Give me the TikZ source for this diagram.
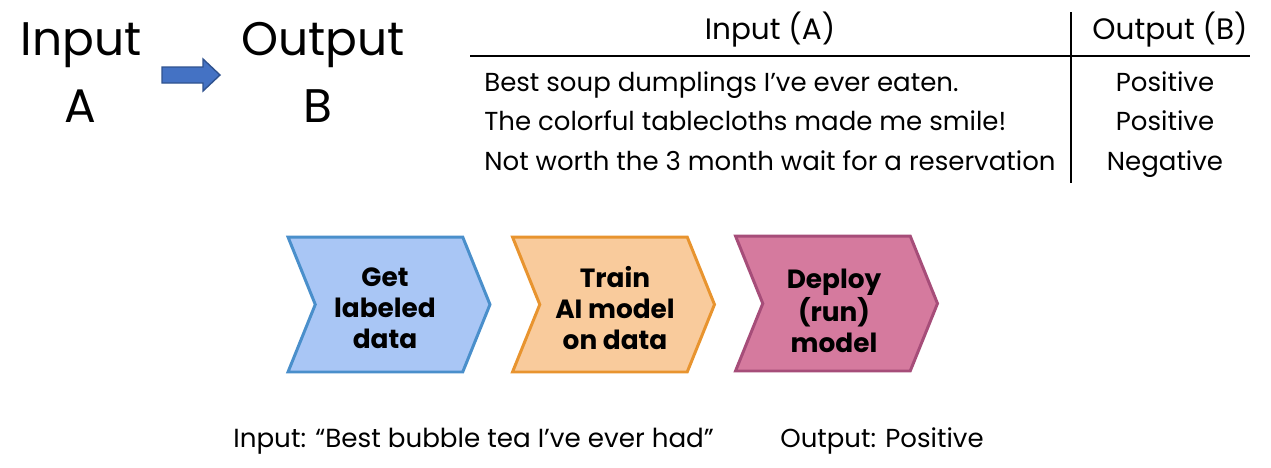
\documentclass[tikz,border=0pt]{standalone}
\usepackage{fontspec}
\setmainfont{Poppins}
\usetikzlibrary{shapes.symbols}
\definecolor{getfill}{HTML}{A9C6F5}
\definecolor{getline}{HTML}{4A8FCB}
\definecolor{trainfill}{HTML}{F9CB9C}
\definecolor{trainline}{HTML}{E8942F}
\definecolor{deployfill}{HTML}{D57A9E}
\definecolor{deployline}{HTML}{A64D79}
\definecolor{arrfill}{HTML}{4472C4}
\definecolor{arrline}{HTML}{2F528F}

\begin{document}
\begin{tikzpicture}[x=0.02cm,y=-0.02cm,
    big/.style={font=\fontsize{26.8}{30}\selectfont,inner sep=0pt,anchor=base},
    cell/.style={font=\fontsize{14.8}{17}\selectfont,inner sep=0pt,anchor=base west},
    head/.style={font=\fontsize{16.8}{19}\selectfont,inner sep=0pt,anchor=base},
    chev/.style={shape=signal,signal from=west,signal to=east,
      signal pointer angle=136,line width=1.7pt,inner sep=0pt,
      minimum width=4.04cm,minimum height=2.7cm},
    steptext/.style={align=center,inner sep=0pt,
      font=\bfseries\fontsize{15}{17.6}\selectfont}]
    \useasboundingbox (0,0) rectangle (1271,467);
    % input -> output
    \node[big] (inA) at (81,55) {Input};
    \node[big] (letA) at (80,122) {A};
    \node[big] (outB) at (323,55) {Output};
    \node[big] (letB) at (318,122) {B};
    \draw[fill=arrfill,draw=arrline,line width=0.8pt] (162,67) -- (203,67) -- (203,59)
      -- (220,75) -- (203,91) -- (203,83) -- (162,83) -- cycle;
    % table
    \draw[line width=1.1pt] (470,56) -- (1250,56);
    \draw[line width=1.1pt] (1071,12) -- (1071,183);
    \node[head] (hin) at (770,39) {Input (A)};
    \node[head] (hout) at (1170,39) {Output (B)};
    \node[cell] (r1) at (484,91) {Best soup dumplings I’ve ever eaten.};
    \node[cell] (r2) at (484,130) {The colorful tablecloths made me smile!};
    \node[cell] (r3) at (484,170) {Not worth the 3 month wait for a reservation};
    \node[cell,anchor=base] (o1) at (1165,91) {Positive};
    \node[cell,anchor=base] (o2) at (1165,130) {Positive};
    \node[cell,anchor=base] (o3) at (1165,170) {Negative};
    % steps
    \node[chev,fill=getfill,draw=getline] (get) at (389,304.5) {};
    \node[chev,fill=trainfill,draw=trainline] (train) at (613.5,304.5) {};
    \node[chev,fill=deployfill,draw=deployline] (deploy) at (836.5,303.5) {};
    \node[steptext] (gettext) at (385,308) {Get\\labeled\\data};
    \node[steptext] (traintext) at (615,308) {Train\\AI model\\on data};
    \node[steptext] (deploytext) at (834,311) {Deploy\\(run)\\model};
    % example
    \node[cell,font=\fontsize{14.9}{17}\selectfont] (exin) at (233,447) {Input: “Best bubble tea I’ve ever had”};
    \node[cell] (exout) at (780,447) {Output: Positive};
\end{tikzpicture}
\end{document}
